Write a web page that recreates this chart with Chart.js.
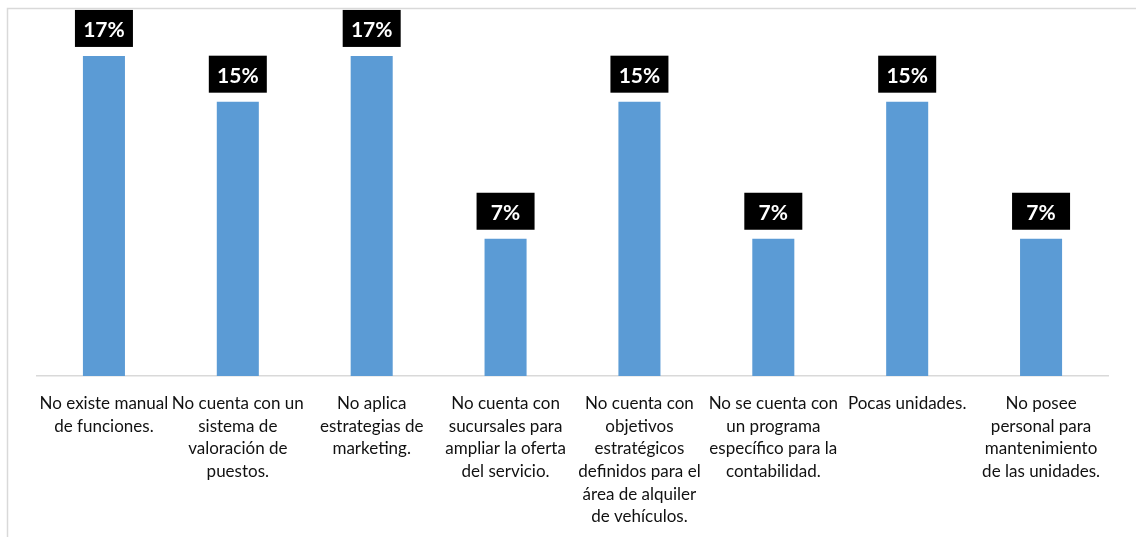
<!DOCTYPE html>
<html>
<head>
<meta charset="utf-8">
<script src="https://cdn.jsdelivr.net/npm/chart.js@4/dist/chart.umd.min.js"></script>
<style>
  html, body { margin: 0; padding: 0; background: #fff; }
  #wrap { position: relative; width: 1136px; height: 537px; }
</style>
</head>
<body>
<div id="wrap"><canvas id="myChart"></canvas></div>
<script>
const categories = [
    ["No existe manual", "de funciones."],
    ["No cuenta con un", "sistema de", "valoración de", "puestos."],
    ["No aplica", "estrategias de", "marketing."],
    ["No cuenta con", "sucursales para", "ampliar la oferta", "del servicio."],
    ["No cuenta con", "objetivos", "estratégicos", "definidos para el", "área de alquiler", "de vehículos."],
    ["No se cuenta con", "un programa", "específico para la", "contabilidad."],
    ["Pocas unidades."],
    ["No posee", "personal para", "mantenimiento", "de las unidades."],
];
const percentages = [17.07, 14.63, 17.07, 7.32, 14.63, 7.32, 14.63, 7.32];

// light frame around the chart block
const frame = {
    id: "frame",
    beforeDraw: (chart) => {
        const ctx = chart.ctx;
        ctx.save();
        ctx.strokeStyle = "#d9d9d9";
        ctx.lineWidth = 1.5;
        ctx.strokeRect(7.5, 8.5, 1300, 700);
        ctx.restore();
    },
};

// black boxes with white percentages above each bar
const valueBoxes = {
    id: "valueBoxes",
    afterDatasetsDraw: (chart) => {
        const ctx = chart.ctx;
        const meta = chart.getDatasetMeta(0);
        ctx.save();
        ctx.font = "bold 21px Lato";
        ctx.textAlign = "center";
        ctx.textBaseline = "middle";
        meta.data.forEach((bar, i) => {
            const w = 58, h = 37;
            const bottom = bar.y - 9;
            ctx.fillStyle = "#000";
            ctx.fillRect(bar.x - w / 2, bottom - h, w, h);
            ctx.fillStyle = "#fff";
            ctx.fillText(Math.round(percentages[i]) + "%", bar.x, bottom - h / 2 + 2);
        });
        ctx.restore();
    },
};

const ctx = document.getElementById("myChart");
const myChart = new Chart(ctx, {
    type: "bar",
    data: {
        labels: categories,
        datasets: [
            {
                data: percentages,
                backgroundColor: "#5b9bd5",
                borderWidth: 0,
                categoryPercentage: 1,
                barPercentage: 0.314,
            },
        ],
    },
    options: {
        responsive: true,
        maintainAspectRatio: false,
        animation: false,
        events: [],
        layout: {
            padding: { left: 37, right: 28, top: 1, bottom: 0 },
        },
        plugins: {
            legend: { display: false },
            tooltip: { enabled: false },
        },
        scales: {
            x: {
                grid: { display: false },
                border: { color: "#d9d9d9", width: 1.5 },
                ticks: {
                    color: "#111",
                    maxRotation: 0,
                    autoSkip: false,
                    padding: 8,
                    font: { family: "Lato", size: 17, lineHeight: "22.7px" },
                },
                afterFit: (scale) => {
                    scale.height = 161;
                },
            },
            y: {
                display: false,
                min: 0,
                max: 20,
            },
        },
    },
    plugins: [frame, valueBoxes],
});
</script>
</body>
</html>
